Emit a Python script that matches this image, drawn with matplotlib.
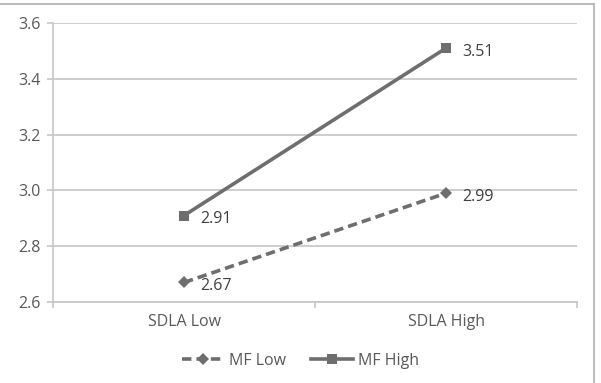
import matplotlib
matplotlib.use('Agg')
from matplotlib import pyplot as plt
from matplotlib.lines import Line2D

# Chart data
categories = ['SDLA Low', 'SDLA High']
mf_low = [2.67, 2.99]
mf_high = [2.91, 3.51]
y_ticks = [2.6, 2.8, 3.0, 3.2, 3.4, 3.6]

plt.rcParams['font.family'] = ['Open Sans', 'DejaVu Sans']

fig = plt.figure(figsize=(6.01, 3.83), dpi=100)
ax = fig.add_axes([53 / 601, 1 - 302 / 383, 524 / 601, 279 / 383])

text_col = '#595959'
grid_col = '#c6c6c6'
line_col = '#6e6e6e'
fsize = 11.5

x = list(range(len(categories)))

low_style = dict(color=line_col, lw=2.6, ls=(0, (2.6, 1.4)), marker='D',
                 ms=6.5, mfc=line_col, mec=line_col, mew=0)
high_style = dict(color=line_col, lw=2.6, ls='-', marker='s',
                  ms=7.5, mfc=line_col, mec=line_col, mew=0)

ax.plot(x, mf_low, label='MF Low', zorder=3, **low_style)
ax.plot(x, mf_high, label='MF High', zorder=3, **high_style)

# Data labels to the right of each point
for series in (mf_low, mf_high):
    for xi, v in zip(x, series):
        ax.annotate('%.2f' % v, (xi, v), xytext=(12, -2.5),
                    textcoords='offset points', ha='left', va='center',
                    fontsize=fsize, color='#404040')

ax.set_xlim(-0.5, 1.5)
ax.set_ylim(2.6, 3.6)
ax.set_yticks(y_ticks)
ax.set_yticklabels(['%.1f' % t for t in y_ticks])
ax.set_xticks(x)
ax.set_xticklabels(categories)
ax.set_xticks([-0.5, 0.5, 1.5], minor=True)

ax.yaxis.grid(True, color=grid_col, lw=1.2)
ax.set_axisbelow(True)
for side in ('top', 'right'):
    ax.spines[side].set_visible(False)
for side in ('left', 'bottom'):
    ax.spines[side].set_color(grid_col)
    ax.spines[side].set_linewidth(1.2)

ax.tick_params(axis='y', length=4, color=grid_col, width=1.2,
               labelsize=fsize, labelcolor=text_col, pad=5)
ax.tick_params(axis='x', which='major', length=0, labelsize=fsize,
               labelcolor=text_col, pad=9)
ax.tick_params(axis='x', which='minor', length=4, color=grid_col, width=1.2)

handles = [Line2D([], [], **low_style), Line2D([], [], **high_style)]
fig.legend(handles, ['MF Low', 'MF High'], loc='center',
           bbox_to_anchor=(0.5, 1 - 361 / 383), ncol=2, frameon=False,
           fontsize=fsize, labelcolor=text_col, handlelength=2.6,
           handletextpad=0.3, columnspacing=1.6)

# Partial frame visible at top and right of the screenshot
fig.add_artist(Line2D([0, 594 / 601], [1 - 4 / 383, 1 - 4 / 383],
                      color='#bdbdbd', lw=1.5, transform=fig.transFigure))
fig.add_artist(Line2D([594 / 601, 594 / 601], [0, 1 - 4 / 383],
                      color='#bdbdbd', lw=1.5, transform=fig.transFigure))

fig.savefig('out.png', dpi=100)
